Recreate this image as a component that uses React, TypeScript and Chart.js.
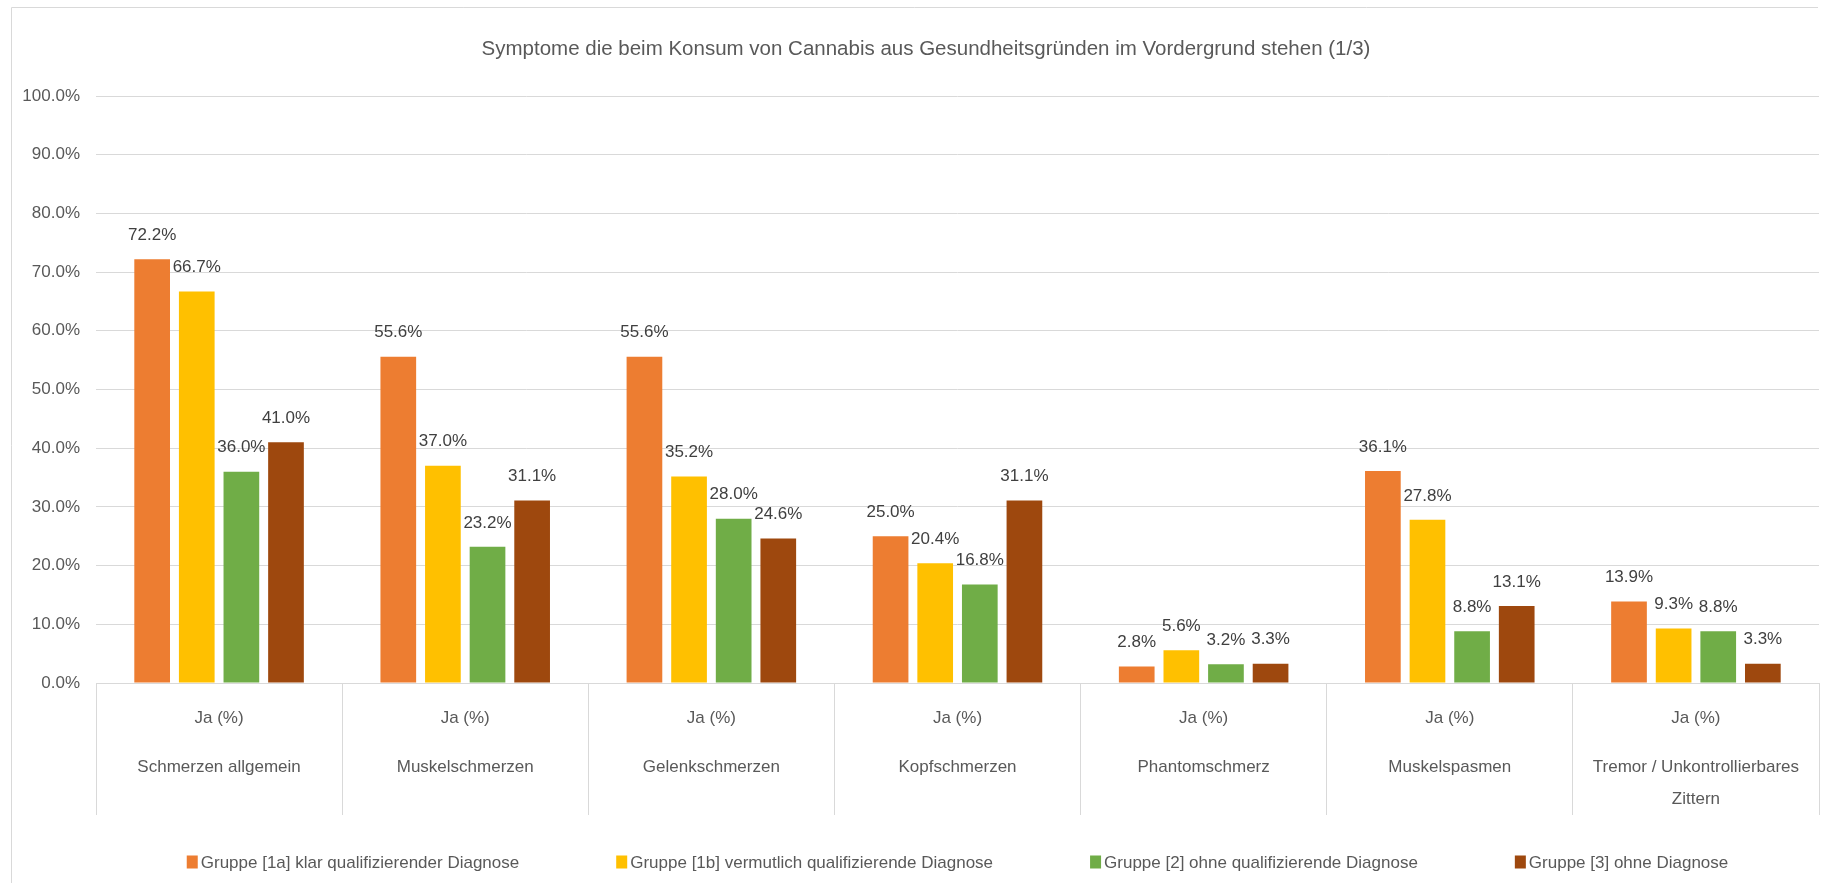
import React, { useEffect, useRef } from "react";
import { Chart, registerables } from "chart.js";

Chart.register(...registerables);

const FONT = "'Liberation Sans', Arial, sans-serif";

const titleText =
  "Symptome die beim Konsum von Cannabis aus Gesundheitsgründen im Vordergrund stehen (1/3)";

const subLabel = "Ja (%)";
const categoryNames: string[][] = [
  ["Schmerzen allgemein"],
  ["Muskelschmerzen"],
  ["Gelenkschmerzen"],
  ["Kopfschmerzen"],
  ["Phantomschmerz"],
  ["Muskelspasmen"],
  ["Tremor / Unkontrollierbares", "Zittern"],
];

const seriesNames = [
  "Gruppe [1a] klar qualifizierender Diagnose",
  "Gruppe [1b] vermutlich qualifizierende Diagnose",
  "Gruppe [2] ohne qualifizierende Diagnose",
  "Gruppe [3] ohne Diagnose",
];
const seriesColors = ["#ED7D31", "#FFC000", "#70AD47", "#9E480E"];

const group1a = [72.2, 55.6, 55.6, 25.0, 2.8, 36.1, 13.9];
const group1b = [66.7, 37.0, 35.2, 20.4, 5.6, 27.8, 9.3];
const group2 = [36.0, 23.2, 28.0, 16.8, 3.2, 8.8, 8.8];
const group3 = [41.0, 31.1, 24.6, 31.1, 3.3, 13.1, 3.3];

const yMin = 0;
const yMax = 100;
const yStep = 10;

const labels = categoryNames.map((lines) => [
  subLabel,
  "",
  "",
  ...lines.flatMap((l, i) => (i === 0 ? [l] : ["", l])),
]);

const dataLabelPlugin = {
  id: "dataLabels",
  afterDatasetsDraw(chart: any) {
    const ctx = chart.ctx;
    ctx.save();
    ctx.font = `17px ${FONT}`;
    ctx.fillStyle = "#404040";
    ctx.textAlign = "center";
    ctx.textBaseline = "middle";
    chart.data.datasets.forEach((ds: any, di: number) => {
      const meta = chart.getDatasetMeta(di);
      meta.data.forEach((bar: any, i: number) => {
        ctx.fillText(ds.data[i].toFixed(1) + "%", bar.x, bar.y - 24);
      });
    });
    ctx.restore();
  },
};

const frameTitleLegendPlugin = {
  id: "frameTitleLegend",
  beforeDraw(chart: any) {
    const ctx = chart.ctx;
    ctx.save();
    ctx.strokeStyle = "#d9d9d9";
    ctx.lineWidth = 1;
    ctx.beginPath();
    ctx.moveTo(11.5, 883);
    ctx.lineTo(11.5, 7.5);
    ctx.lineTo(1818, 7.5);
    ctx.stroke();
    ctx.restore();
  },
  afterDraw(chart: any) {
    const ctx = chart.ctx;
    const { left, right } = chart.chartArea;
    ctx.save();
    // title
    ctx.font = `20.5px ${FONT}`;
    ctx.fillStyle = "#595959";
    ctx.textAlign = "center";
    ctx.textBaseline = "middle";
    ctx.fillText(titleText, 926, 49);
    // legend
    ctx.font = `17px ${FONT}`;
    const gap = 97;
    const boxW = 11;
    const boxH = 13;
    const textGap = 3;
    const items = chart.data.datasets.map((ds: any) => ({
      text: ds.label,
      color: ds.backgroundColor,
      w: boxW + textGap + ctx.measureText(ds.label).width,
    }));
    const total =
      items.reduce((s: number, it: any) => s + it.w, 0) + gap * (items.length - 1);
    let x = (left + right) / 2 - total / 2;
    const y = 862;
    items.forEach((it: any) => {
      ctx.fillStyle = it.color;
      ctx.fillRect(x, y - boxH / 2, boxW, boxH);
      ctx.fillStyle = "#595959";
      ctx.textAlign = "left";
      ctx.textBaseline = "middle";
      ctx.fillText(it.text, x + boxW + textGap, y + 1);
      x += it.w + gap;
    });
    ctx.restore();
  },
};

export default function App() {
  const canvasRef = useRef<HTMLCanvasElement | null>(null);

  useEffect(() => {
    document.body.style.margin = "0";
    const canvas = canvasRef.current;
    if (!canvas) return;
    const seriesValues = [group1a, group1b, group2, group3];
    const chart = new Chart(canvas, {
      type: "bar",
      data: {
        labels,
        datasets: seriesValues.map((vals, i) => ({
          label: seriesNames[i],
          data: vals,
          backgroundColor: seriesColors[i],
          borderWidth: 0,
          categoryPercentage: 0.725,
          barPercentage: 0.8,
        })),
      },
      options: {
        responsive: false,
        animation: false,
        devicePixelRatio: 1,
        layout: { padding: { left: 0, right: 3, top: 96, bottom: 0 } },
        plugins: {
          legend: { display: false },
          tooltip: { enabled: false },
          title: { display: false },
        },
        scales: {
          x: {
            grid: {
              display: true,
              offset: true,
              drawOnChartArea: false,
              drawTicks: true,
              tickLength: 132,
              color: "#d9d9d9",
              lineWidth: 1,
            },
            border: { display: true, color: "#d9d9d9" },
            ticks: {
              padding: 26.8 - 132,
              color: "#595959",
              font: { family: FONT, size: 17, lineHeight: "16.33px" },
              maxRotation: 0,
              autoSkip: false,
            },
            afterFit: (scale: any) => {
              scale.height = 200;
            },
          },
          y: {
            min: yMin,
            max: yMax,
            grid: { color: "#d9d9d9", drawTicks: false },
            border: { display: false },
            ticks: {
              stepSize: yStep,
              padding: 16,
              color: "#595959",
              font: { family: FONT, size: 17 },
              callback: (v: any) => Number(v).toFixed(1) + "%",
            },
            afterFit: (scale: any) => {
              scale.width = 96;
            },
          },
        },
      },
      plugins: [dataLabelPlugin, frameTitleLegendPlugin],
    } as any);
    return () => chart.destroy();
  }, []);

  return (
    <div style={{ width: 1822, height: 883, position: "relative", background: "#fff" }}>
      <canvas ref={canvasRef} width={1822} height={883} style={{ display: "block" }} />
    </div>
  );
}
